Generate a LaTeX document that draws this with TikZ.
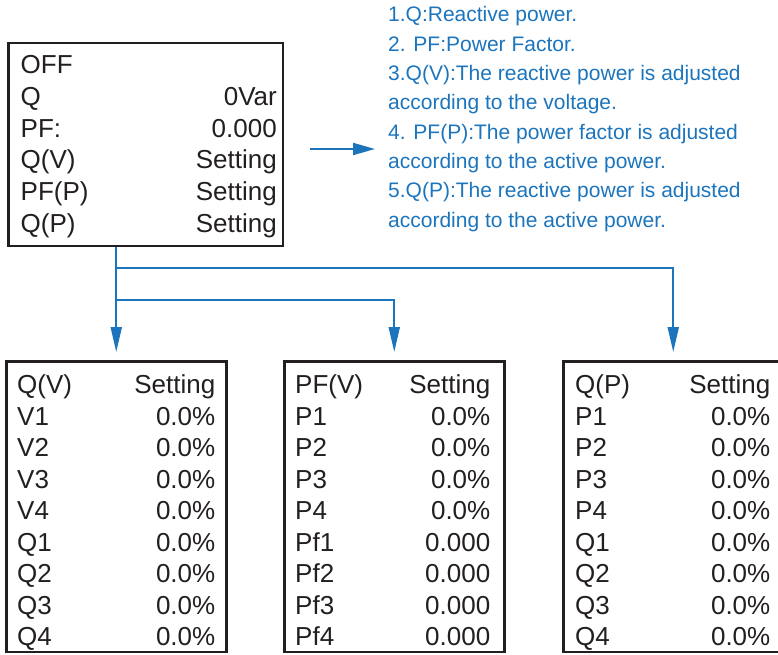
\documentclass[tikz,border=0pt]{standalone}
\usepackage{fontspec}
\setmainfont{Liberation Sans}
\usetikzlibrary{arrows.meta,positioning,calc}
\definecolor{linkblue}{RGB}{28,117,188}
\definecolor{boxgray}{RGB}{35,31,32}

\begin{document}
\begin{tikzpicture}[
    x=1pt, y=-1pt,
    box/.style={draw=boxgray, line width=2.5pt, minimum width=220pt, minimum height=290.5pt, anchor=north west, inner sep=0pt},
    lbl/.style={text=boxgray, font=\fontsize{26}{30}\selectfont, inner sep=0pt},
    note/.style={text=linkblue, font=\fontsize{21}{29}\selectfont, inner sep=0pt, anchor=base west},
    link/.style={draw=linkblue, line width=2pt, -{Triangle[length=25pt,width=11pt]}}
]
\clip (0,0) rectangle (778,655);

% Main menu
\node[box, minimum width=274.5pt, minimum height=202.5pt] (menu) at (7,42) {};
\node[lbl, anchor=base west] (menu-l0) at ($(menu.north west)+(13.5,32)$) {OFF};
\foreach \l/\v [count=\i from 1] in {Q/0Var, PF:/0.000, {Q(V)}/Setting, {PF(P)}/Setting, {Q(P)}/Setting} {
  \node[lbl, anchor=base west] (menu-l\i) at ($(menu.north west)+(13.5,32+31.6*\i)$) {\l};
  \node[lbl, anchor=base east] (menu-v\i) at ($(menu.north east)+(-7,32+31.6*\i)$) {\v};
}

% Notes
\foreach \t [count=\i from 0] in {1.Q:Reactive power., 2. PF:Power Factor., 3.Q(V):The reactive power is adjusted, according to the voltage., 4. PF(P):The power factor is adjusted, according to the active power., 5.Q(P):The reactive power is adjusted, according to the active power.}
  \node[note] (n\i) at (388,22+29.3*\i) {\t};

\coordinate (ptr) at (310,149);
\draw[link, -{Triangle[length=22pt,width=12pt]}, shorten >=13pt] (ptr) -- (ptr -| n0.west);

% Setting menus
\node[box] (qv) at (5,360) {};
\node[box, right=55.5pt of qv] (pfv) {};
\node[box, right=56.5pt of pfv] (qp) {};

\foreach \l/\v [count=\i from 0] in {{Q(V)}/Setting, V1/0.0\%, V2/0.0\%, V3/0.0\%, V4/0.0\%, Q1/0.0\%, Q2/0.0\%, Q3/0.0\%, Q4/0.0\%} {
  \node[lbl, anchor=base west] (qv-l\i) at ($(qv.north west)+(12,33.5+31.5*\i)$) {\l};
  \node[lbl, anchor=base east] (qv-v\i) at ($(qv.north east)+(-12,33.5+31.5*\i)$) {\v};
}
\foreach \l/\v [count=\i from 0] in {{PF(V)}/Setting, P1/0.0\%, P2/0.0\%, P3/0.0\%, P4/0.0\%, Pf1/0.000, Pf2/0.000, Pf3/0.000, Pf4/0.000} {
  \node[lbl, anchor=base west] (pfv-l\i) at ($(pfv.north west)+(12,33.5+31.5*\i)$) {\l};
  \node[lbl, anchor=base east] (pfv-v\i) at ($(pfv.north east)+(-15,33.5+31.5*\i)$) {\v};
}
\foreach \l/\v [count=\i from 0] in {{Q(P)}/Setting, P1/0.0\%, P2/0.0\%, P3/0.0\%, P4/0.0\%, Q1/0.0\%, Q2/0.0\%, Q3/0.0\%, Q4/0.0\%} {
  \node[lbl, anchor=base west] (qp-l\i) at ($(qp.north west)+(13,33.5+31.5*\i)$) {\l};
  \node[lbl, anchor=base east] (qp-v\i) at ($(qp.north east)+(-14,33.5+31.5*\i)$) {\v};
}

% Menu to sub-menus
\coordinate (j1) at ($(menu.south -| qv.north)+(0,21)$);
\coordinate (j2) at ($(menu.south -| qv.north)+(0,53)$);
\draw[link, shorten >=8pt] (menu.south -| qv.north) -- (qv.north);
\draw[link, shorten >=8pt] (j1) -| (qp.north);
\draw[link, shorten >=8pt] (j2) -| (pfv.north);

\end{tikzpicture}
\end{document}
